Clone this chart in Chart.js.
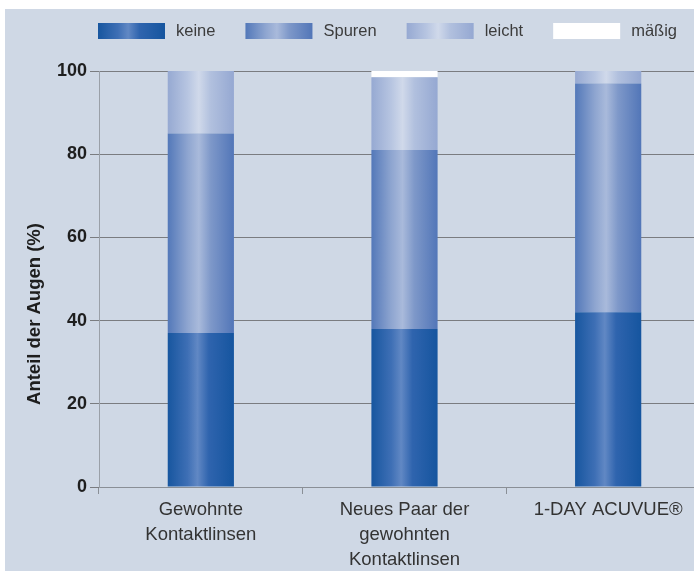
<!DOCTYPE html>
<html>
<head>
<meta charset="utf-8">
<script src="https://cdn.jsdelivr.net/npm/chart.js@4"></script>
<style>
    body { margin: 0; background: #fff; overflow: hidden; }
    #panel { position: absolute; left: 5px; top: 9px; width: 689px; height: 562px; overflow: hidden; background: #cfd8e5; }
    canvas { display: block; }
</style>
</head>
<body>
<div id="panel"><canvas id="chart" width="705" height="562"></canvas></div>
<script>
// categories (x axis)
const categories = [
    ['Gewohnte', 'Kontaktlinsen'],
    ['Neues Paar der', 'gewohnten', 'Kontaktlinsen'],
    ['1-DAY ACUVUE®']
];

// share of eyes per grade (%)
const keine = [37, 38, 42];
const spuren = [48, 43, 55];
const leicht = [15, 17.5, 3];
const maessig = [0, 1.5, 0];

const seriesNames = ['keine', 'Spuren', 'leicht', 'mäßig'];
const yTicks = [0, 20, 40, 60, 80, 100];
const yTitle = 'Anteil der Augen (%)';

// gradient stops for every series: [position, colour]
const shades = [
    [[0, '#17569f'], [0.3, '#3e6fb5'], [0.45, '#6188c4'], [0.62, '#2f64ae'], [1, '#15559f']],
    [[0, '#5378b9'], [0.3, '#8ea5d0'], [0.47, '#a9badb'], [0.65, '#7e98c9'], [1, '#5276b8']],
    [[0, '#96a9d2'], [0.3, '#b7c5e1'], [0.47, '#d0d9ea'], [0.65, '#b1c0de'], [1, '#95a8d2']],
    [[0, '#ffffff'], [1, '#ffffff']]
];

const catPct = 0.325;

const makeGradient = (ctx, x0, x1, stops) => {
    const g = ctx.createLinearGradient(x0, 0, x1, 0);
    stops.forEach(s => g.addColorStop(s[0], s[1]));
    return g;
}

// scriptable fill: gradient across the width of each bar
const barFill = (i) => (context) => {
    const chart = context.chart;
    const xs = chart.scales.x;
    if (!chart.chartArea || !xs) return shades[i][0][1];
    const cw = (xs.right - xs.left) / chart.data.labels.length;
    const w = cw * catPct;
    const cx = xs.getPixelForValue(context.dataIndex);
    return makeGradient(chart.ctx, cx - w / 2, cx + w / 2, shades[i]);
}

// legend + y title drawn by hand
const extras = {
    id: 'extras',
    afterDraw(chart) {
        const ctx = chart.ctx;
        ctx.save();
        ctx.font = '16.5px "Liberation Sans", Arial, sans-serif';
        ctx.textBaseline = 'middle';
        let x = chart.chartArea.left - 1;
        const y = 14;
        chart.data.datasets.forEach((ds, i) => {
            ctx.fillStyle = makeGradient(ctx, x, x + 67, shades[i]);
            ctx.fillRect(x, y, 67, 16);
            x += 67 + 11;
            ctx.fillStyle = '#3c3c3c';
            ctx.fillText(ds.label, x, y + 8);
            x += ctx.measureText(ds.label).width + 30;
        })

        ctx.translate(30, 305);
        ctx.rotate(-Math.PI / 2);
        ctx.font = 'bold 18.5px "Liberation Sans", Arial, sans-serif';
        ctx.textAlign = 'center';
        ctx.textBaseline = 'middle';
        ctx.fillStyle = '#1e1e1e';
        ctx.fillText(yTitle, 0, 0);
        ctx.restore();
    }
}

Chart.defaults.font.family = '"Liberation Sans", Arial, sans-serif';

const seriesData = [keine, spuren, leicht, maessig];

const myChart = document.getElementById('chart');

let chart = new Chart(myChart, {
    type: 'bar',
    data: {
        labels: categories,
        datasets: seriesData.map((d, i) => ({
            label: seriesNames[i],
            data: d,
            backgroundColor: barFill(i),
            borderWidth: 0,
            categoryPercentage: catPct,
            barPercentage: 1
        }))
    },
    options: {
        responsive: false,
        animation: false,
        layout: { padding: { top: 62, left: 0, right: 0, bottom: 0 } },
        plugins: {
            legend: { display: false },
            tooltip: { enabled: false }
        },
        scales: {
            x: {
                stacked: true,
                afterFit: (scale) => { scale.height = 84; },
                grid: {
                    offset: true,
                    drawOnChartArea: false,
                    drawTicks: true,
                    tickLength: 7,
                    color: '#8a8f96'
                },
                border: { color: '#8a8f96', width: 1 },
                ticks: {
                    color: '#333',
                    padding: 3,
                    maxRotation: 0,
                    font: { size: 18.5, lineHeight: 1.35 }
                }
            },
            y: {
                stacked: true,
                min: 0,
                max: 100,
                afterFit: (scale) => { scale.width = 94; },
                afterBuildTicks: (scale) => { scale.ticks = yTicks.map(v => ({ value: v })); },
                grid: {
                    color: '#7a7c80',
                    tickLength: 9,
                    lineWidth: 1
                },
                border: { color: '#9aa0a8', width: 1 },
                ticks: {
                    color: '#1e1e1e',
                    padding: 3,
                    font: { size: 18, weight: 'bold' }
                }
            }
        }
    },
    plugins: [extras]
});
</script>
</body>
</html>
